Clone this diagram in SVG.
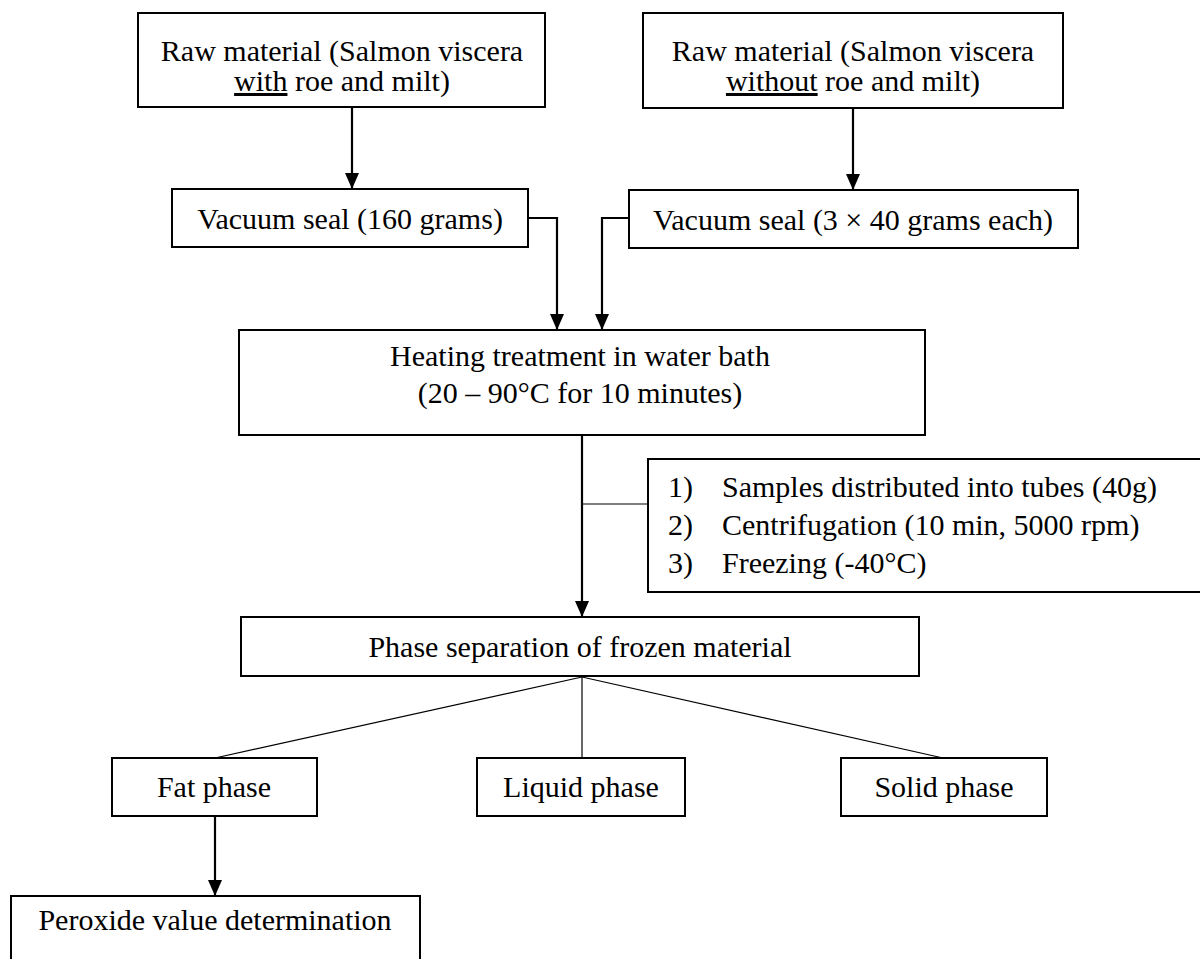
<svg xmlns="http://www.w3.org/2000/svg" width="1200" height="959" viewBox="0 0 1200 959">
<style>
.box{fill:#fff;stroke:#000;stroke-width:2}
.t{font-family:"Liberation Serif","Times New Roman",serif;font-size:30px;fill:#000}
.c{text-anchor:middle}
.arr{fill:none;stroke:#000;stroke-width:2.2}
.thin{fill:none;stroke:#000;stroke-width:1.2}
</style>
<defs>
<marker id="ahd" markerUnits="userSpaceOnUse" markerWidth="16" markerHeight="14" viewBox="0 0 16 14" refX="16" refY="7" orient="auto">
<path d="M0,0 L16,7 L0,14 Z" fill="#000"/>
</marker>
</defs>
<g id="connectors">
<line class="arr" x1="352" y1="107" x2="352" y2="189" marker-end="url(#ahd)"/>
<line class="arr" x1="853" y1="108" x2="853" y2="190" marker-end="url(#ahd)"/>
<polyline class="arr" points="528,218 557,218 557,330" marker-end="url(#ahd)"/>
<polyline class="arr" points="629,218 602,218 602,330" marker-end="url(#ahd)"/>
<line class="arr" x1="582" y1="435" x2="582" y2="617" marker-end="url(#ahd)"/>
<line class="thin" x1="582" y1="504" x2="648" y2="504"/>
<line class="thin" x1="582" y1="677" x2="215" y2="758"/>
<line class="thin" x1="582" y1="677" x2="582" y2="758"/>
<line class="thin" x1="582" y1="677" x2="943" y2="758"/>
<line class="arr" x1="215" y1="816" x2="215" y2="896" marker-end="url(#ahd)"/>
</g>
<g id="raw-with">
<rect class="box" x="138" y="13" width="407" height="94"/>
<text class="t c" x="342" y="61">Raw material (Salmon viscera</text>
<text class="t c" x="342" y="91"><tspan text-decoration="underline">with</tspan> roe and milt)</text>
</g>
<g id="raw-without">
<rect class="box" x="643" y="13" width="420" height="95"/>
<text class="t c" x="853" y="61">Raw material (Salmon viscera</text>
<text class="t c" x="853" y="91"><tspan text-decoration="underline">without</tspan> roe and milt)</text>
</g>
<g id="vacuum-160">
<rect class="box" x="172" y="189" width="356" height="58"/>
<text class="t c" x="350" y="229">Vacuum seal (160 grams)</text>
</g>
<g id="vacuum-3x40">
<rect class="box" x="629" y="190" width="449" height="58"/>
<text class="t c" x="853" y="230">Vacuum seal (3 × 40 grams each)</text>
</g>
<g id="heating">
<rect class="box" x="239" y="330" width="686" height="105"/>
<text class="t c" x="580" y="366">Heating treatment in water bath</text>
<text class="t c" x="580" y="403">(20 – 90°C for 10 minutes)</text>
</g>
<g id="steps">
<rect class="box" x="648" y="459" width="570" height="133"/>
<text class="t" x="668" y="497">1)</text>
<text class="t" x="722" y="497">Samples distributed into tubes (40g)</text>
<text class="t" x="668" y="535">2)</text>
<text class="t" x="722" y="535">Centrifugation (10 min, 5000 rpm)</text>
<text class="t" x="668" y="573">3)</text>
<text class="t" x="722" y="573">Freezing (-40°C)</text>
</g>
<g id="phase-separation">
<rect class="box" x="241" y="617" width="678" height="59"/>
<text class="t c" x="580" y="657">Phase separation of frozen material</text>
</g>
<g id="fat">
<rect class="box" x="112" y="758" width="205" height="58"/>
<text class="t c" x="214" y="797">Fat phase</text>
</g>
<g id="liquid">
<rect class="box" x="477" y="758" width="208" height="58"/>
<text class="t c" x="581" y="797">Liquid phase</text>
</g>
<g id="solid">
<rect class="box" x="841" y="758" width="206" height="58"/>
<text class="t c" x="944" y="797">Solid phase</text>
</g>
<g id="peroxide">
<rect class="box" x="11" y="896" width="409" height="80"/>
<text class="t c" x="215" y="930">Peroxide value determination</text>
</g>
</svg>
